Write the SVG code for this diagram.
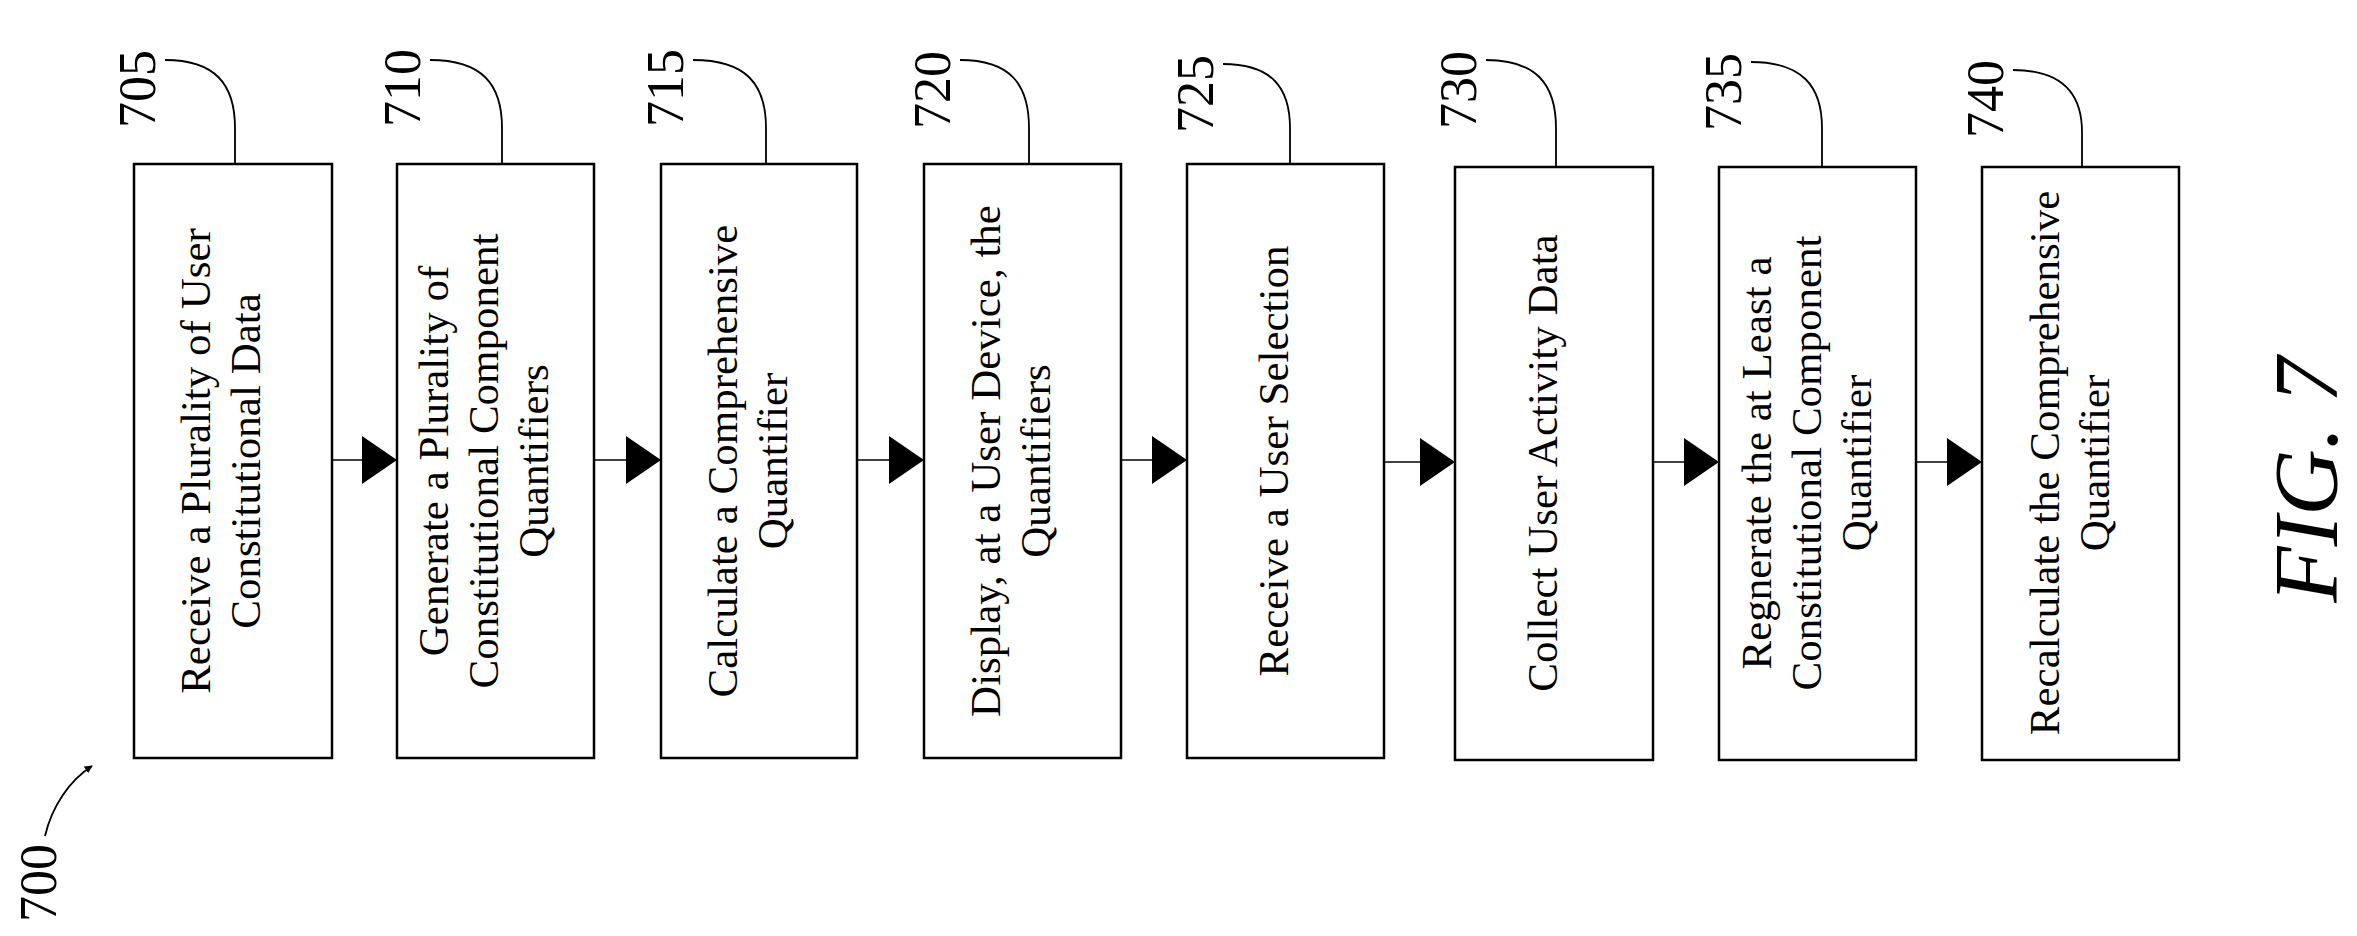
<svg xmlns="http://www.w3.org/2000/svg" width="2357" height="936" viewBox="0 0 2357 936">
<defs>
<style>
.box{fill:#fff;stroke:#000;stroke-width:2.5}
.t{font-family:"Liberation Serif","Times New Roman",serif;font-size:43px;text-anchor:middle;fill:#000}
.lbl{font-family:"Liberation Serif","Times New Roman",serif;font-size:52px;text-anchor:middle;fill:#000}
.lead{fill:none;stroke:#000;stroke-width:1.8}
.conn{stroke:#000;stroke-width:1.5}
.ah{fill:#000}
</style>
<marker id="arr" viewBox="0 0 10 10" refX="9" refY="5" markerWidth="8" markerHeight="8" orient="auto" markerUnits="userSpaceOnUse"><path d="M0,0 L10,5 L0,10 z" fill="#000"/></marker>
</defs>
<rect width="2357" height="936" fill="#fff"/>

<g id="connectors">
<line class="conn" x1="332" y1="460" x2="362" y2="460"/><polygon class="ah" points="362,436 397,460 362,484"/>
<line class="conn" x1="594" y1="460" x2="626" y2="460"/><polygon class="ah" points="626,436 661,460 626,484"/>
<line class="conn" x1="857" y1="460" x2="889" y2="460"/><polygon class="ah" points="889,436 924,460 889,484"/>
<line class="conn" x1="1121" y1="460" x2="1152" y2="460"/><polygon class="ah" points="1152,436 1187,460 1152,484"/>
<line class="conn" x1="1384" y1="462" x2="1420" y2="462"/><polygon class="ah" points="1420,438 1455,462 1420,486"/>
<line class="conn" x1="1653" y1="462" x2="1684" y2="462"/><polygon class="ah" points="1684,438 1719,462 1684,486"/>
<line class="conn" x1="1916" y1="462" x2="1947" y2="462"/><polygon class="ah" points="1947,438 1982,462 1947,486"/>
</g>

<g id="n705">
<rect class="box" x="134" y="164" width="198" height="594"/>
<text class="t" transform="translate(222,461) rotate(-90)"><tspan x="0" y="-12">Receive a Plurality of User</tspan><tspan x="0" y="38">Constitutional Data</tspan></text>
<text class="lbl" transform="translate(155,89) rotate(-90)">705</text>
<path class="lead" d="M165,60 C215,60 235,84 235,128 L235,164"/>
</g>
<g id="n710">
<rect class="box" x="397" y="164" width="197" height="594"/>
<text class="t" transform="translate(485,461) rotate(-90)"><tspan x="0" y="-37">Generate a Plurality of</tspan><tspan x="0" y="13">Constitutional Component</tspan><tspan x="0" y="63">Quantifiers</tspan></text>
<text class="lbl" transform="translate(420,88) rotate(-90)">710</text>
<path class="lead" d="M430,60 C482,60 502,84 502,128 L502,164"/>
</g>
<g id="n715">
<rect class="box" x="661" y="164" width="196" height="594"/>
<text class="t" transform="translate(749,461) rotate(-90)"><tspan x="0" y="-12">Calculate a Comprehensive</tspan><tspan x="0" y="38">Quantifier</tspan></text>
<text class="lbl" transform="translate(683,88) rotate(-90)">715</text>
<path class="lead" d="M693,60 C746,60 766,84 766,128 L766,164"/>
</g>
<g id="n720">
<rect class="box" x="924" y="164" width="197" height="594"/>
<text class="t" transform="translate(1012,461) rotate(-90)"><tspan x="0" y="-12">Display, at a User Device, the</tspan><tspan x="0" y="38">Quantifiers</tspan></text>
<text class="lbl" transform="translate(950,90) rotate(-90)">720</text>
<path class="lead" d="M960,60 C1010,60 1029,84 1029,128 L1029,164"/>
</g>
<g id="n725">
<rect class="box" x="1187" y="164" width="197" height="594"/>
<text class="t" transform="translate(1275,461) rotate(-90)"><tspan x="0" y="13">Receive a User Selection</tspan></text>
<text class="lbl" transform="translate(1213,94) rotate(-90)">725</text>
<path class="lead" d="M1223,64 C1272,64 1290,88 1290,128 L1290,164"/>
</g>
<g id="n730">
<rect class="box" x="1455" y="167" width="198" height="593"/>
<text class="t" transform="translate(1544,463) rotate(-90)"><tspan x="0" y="13">Collect User Activity Data</tspan></text>
<text class="lbl" transform="translate(1476,90) rotate(-90)">730</text>
<path class="lead" d="M1486,60 C1536,60 1556,84 1556,128 L1556,167"/>
</g>
<g id="n735">
<rect class="box" x="1719" y="167" width="197" height="593"/>
<text class="t" transform="translate(1808,463) rotate(-90)"><tspan x="0" y="-37">Regnerate the at Least a</tspan><tspan x="0" y="13">Constitutional Component</tspan><tspan x="0" y="63">Quantifier</tspan></text>
<text class="lbl" transform="translate(1741,92) rotate(-90)">735</text>
<path class="lead" d="M1751,62 C1802,62 1822,86 1822,128 L1822,167"/>
</g>
<g id="n740">
<rect class="box" x="1982" y="167" width="197" height="593"/>
<text class="t" transform="translate(2071,463) rotate(-90)"><tspan x="0" y="-12">Recalculate the Comprehensive</tspan><tspan x="0" y="38">Quantifier</tspan></text>
<text class="lbl" transform="translate(2003,99) rotate(-90)">740</text>
<path class="lead" d="M2013,70 C2063,70 2082,94 2082,132 L2082,167"/>
</g>

<g id="n700">
<text class="lbl" transform="translate(56,883) rotate(-90)">700</text>
<path class="lead" d="M45,836 C52,806 70,780 92,766" marker-end="url(#arr)"/>
</g>

<text transform="translate(2337,480) rotate(-90)" font-family="Liberation Serif, Times New Roman, serif" font-style="italic" font-size="92" text-anchor="middle">FIG. 7</text>
</svg>
